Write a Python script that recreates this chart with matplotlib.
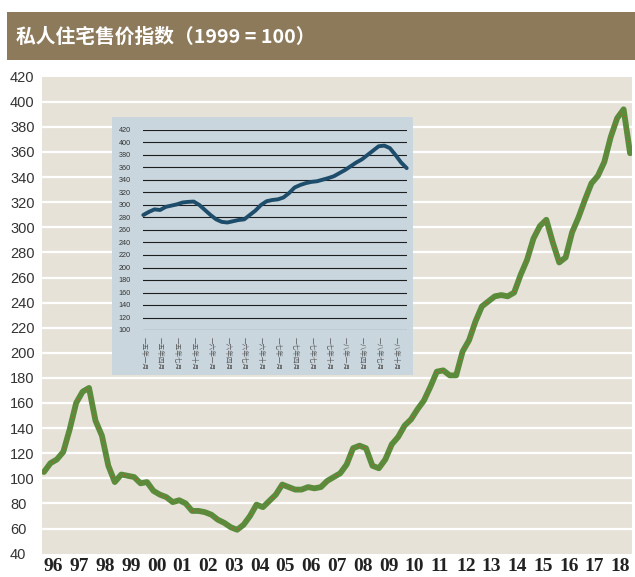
import matplotlib
matplotlib.use("Agg")
import matplotlib.pyplot as plt
from matplotlib.patches import Rectangle
import numpy as np

plt.rcParams['font.family'] = ['Noto Sans CJK SC', 'DejaVu Sans']

# ---------------- data ----------------
title = "私人住宅售价指数（1999 = 100）"
year_labels = ["96", "97", "98", "99", "00", "01", "02", "03", "04", "05", "06", "07",
               "08", "09", "10", "11", "12", "13", "14", "15", "16", "17", "18"]
# quarterly index values 1996Q1 .. 2018Q4
quarterly_values = [
    105, 112, 115, 121,   # 96
    139, 160, 169, 172,   # 97
    146, 134, 110, 97,    # 98
    103, 102, 101, 96,    # 99
    97, 90, 87, 85,       # 00
    81, 82.5, 80, 74,     # 01
    74, 73, 71, 67,       # 02
    64.5, 61, 59, 63,     # 03
    70, 79, 77, 82,       # 04
    87, 95, 93, 91,       # 05
    91, 93, 92, 93,       # 06
    98, 101, 104, 111,    # 07
    124, 126, 124, 110,   # 08
    108, 115, 127, 133,   # 09
    142, 147, 155, 162,   # 10
    173, 185, 186, 182,   # 11
    182, 201, 210, 225,   # 12
    237, 241, 245, 246,   # 13
    245, 248, 262, 274,   # 14
    291, 301, 306, 288,   # 15
    272, 276, 296, 308,   # 16
    322, 335, 341, 352,   # 17
    372, 387, 394, 359,   # 18
]
main_yticks = list(range(40, 421, 20))

# inset: monthly 2015-01 .. 2018-12
inset_values = [284, 289, 293, 292, 297, 299, 301, 304, 305, 305.5, 300, 292,
                284, 277, 273, 272, 274, 276, 277, 284, 291, 300, 306, 308,
                309, 312, 319, 328, 332, 335, 337, 338, 340.5, 343, 346, 351,
                356, 362, 368, 373, 380, 387, 394, 395, 391, 380, 368, 359]
inset_labels = ["一五年一月", "一五年四月", "一五年七月", "一五年十月",
                "一六年一月", "一六年四月", "一六年七月", "一六年十月",
                "一七年一月", "一七年四月", "一七年七月", "一七年十月",
                "一八年一月", "一八年四月", "一八年七月", "一八年十月"]
inset_yticks = list(range(100, 421, 20))

# ---------------- figure ----------------
W, H = 635, 577
fig = plt.figure(figsize=(W / 100, H / 100), dpi=100)
fig.patch.set_facecolor("white")

def fx(px):
    return px / W

def fy(py):
    return 1 - py / H

# title bar
fig.patches.append(Rectangle((fx(7), fy(60)), fx(628), (60 - 12) / H,
                             transform=fig.transFigure, facecolor="#8d7a5b",
                             edgecolor="none", zorder=0))
fig.text(fx(16), fy(37.5), title, color="white", fontsize=14.2, fontweight="bold",
         va="center", ha="left", family=['Noto Sans CJK SC', 'DejaVu Sans'])

# main axes
ax = fig.add_axes([fx(42), fy(553.6), fx(632 - 42), (553.6 - 76.7) / H])
ax.set_facecolor("#e7e2d8")
x = np.arange(len(quarterly_values))
ax.set_xlim(-0.3, len(quarterly_values) - 1 + 0.3)
ax.set_ylim(40, 420)
for v in main_yticks[1:-1]:
    ax.axhline(v, color="white", lw=1.6, zorder=1)
ax.plot(x, quarterly_values, color="#5a8c3c", lw=4.2, solid_capstyle="round",
        solid_joinstyle="round", zorder=3)
ax.plot(x, quarterly_values, color="#d9452b", lw=0.9, ls=(0, (0.6, 4.5)), zorder=4)
for s in ax.spines.values():
    s.set_visible(False)
ax.set_yticks(main_yticks)
ax.set_yticklabels([str(v) for v in main_yticks], fontsize=10.5, color="#333333",
                   family="Liberation Sans")
for lab in ax.get_yticklabels():
    lab.set_horizontalalignment("left")
ax.tick_params(axis="y", length=0, pad=23)
ax.set_xticks([4 * k + 1.5 for k in range(len(year_labels))])
ax.set_xticklabels(year_labels, fontsize=14, fontweight="bold", color="#222222",
                   family="Liberation Serif")
ax.tick_params(axis="x", length=0, pad=3)

# inset background box
fig.patches.append(Rectangle((fx(111.7), fy(375)), fx(413 - 111.7), (375 - 117.3) / H,
                             transform=fig.transFigure, facecolor="#c9d6de",
                             edgecolor="none", zorder=5))
iax = fig.add_axes([fx(143.3), fy(330), fx(406.7 - 143.3), (330 - 130) / H], zorder=6)
iax.patch.set_alpha(0)
ix = np.arange(len(inset_values))
iax.set_xlim(0, len(inset_values) - 1)
iax.set_ylim(100, 420)
for v in inset_yticks:
    iax.axhline(v, color="#1e1e1e", lw=0.8, zorder=1)
iax.plot(ix, inset_values, color="#1d4d6b", lw=2.8, solid_capstyle="round",
         solid_joinstyle="round", zorder=3, clip_on=False)
for s in iax.spines.values():
    s.set_visible(False)
iax.set_yticks(inset_yticks)
iax.set_yticklabels([str(v) for v in inset_yticks], fontsize=5.2, color="#333333",
                    family="Liberation Sans")
iax.tick_params(axis="y", length=0, pad=9)
iax.set_xticks([3 * k for k in range(len(inset_labels))])
iax.set_xticklabels(inset_labels, fontsize=4.8, color="#5a5a5a", rotation=-90,
                    va="top", ha="center")
iax.tick_params(axis="x", length=0, pad=5)

fig.savefig("out.png", dpi=100, facecolor="white")
